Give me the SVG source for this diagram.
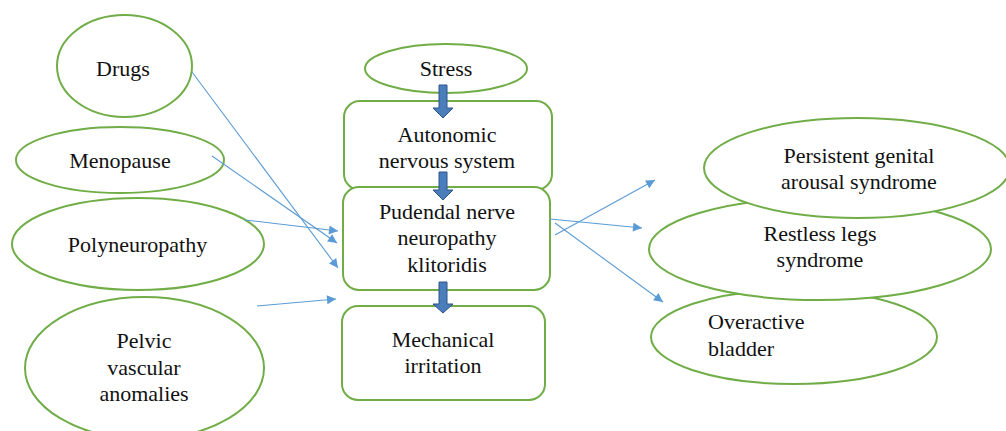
<svg xmlns="http://www.w3.org/2000/svg" width="1006" height="431" viewBox="0 0 1006 431">
<defs>
<style>
.n{fill:#fff;stroke:#70ad47;stroke-width:2}
.t{font-family:'Liberation Serif','Times New Roman',serif;font-size:22px;fill:#111;text-anchor:middle}
.c{stroke:#5b9bd5;stroke-width:1.1;fill:none;marker-end:url(#ah)}
.b{fill:#4a7ebb;stroke:#2f528f;stroke-width:1}
</style>
<marker id="ah" viewBox="0 0 10 10" refX="10" refY="5" markerWidth="10" markerHeight="9" markerUnits="userSpaceOnUse" orient="auto">
<path d="M0,0 L10,5 L0,10 z" fill="#5b9bd5"/>
</marker>
</defs>
<rect width="1006" height="431" fill="#fff"/>
<g id="drugs"><ellipse class="n" cx="124.5" cy="66" rx="67.5" ry="51"/><text class="t" x="123" y="76">Drugs</text></g>
<g id="menopause"><ellipse class="n" cx="120" cy="160" rx="104" ry="33"/><text class="t" x="120" y="168">Menopause</text></g>
<g id="polyneuropathy"><ellipse class="n" cx="138" cy="244" rx="126" ry="46"/><text class="t" x="137.5" y="252">Polyneuropathy</text></g>
<g id="pelvic"><ellipse class="n" cx="144.5" cy="368" rx="119.5" ry="71"/><text class="t" x="144" y="348">Pelvic</text><text class="t" x="144" y="375">vascular</text><text class="t" x="144" y="401">anomalies</text></g>
<g id="stress"><ellipse class="n" cx="446" cy="68.5" rx="81" ry="24.5"/><text class="t" x="446" y="76">Stress</text></g>
<g id="autonomic"><rect class="n" x="344" y="101" width="208" height="89" rx="16"/><text class="t" x="447" y="142">Autonomic</text><text class="t" x="447" y="168">nervous system</text></g>
<g id="pudendal"><rect class="n" x="343" y="187" width="207" height="103" rx="16"/><text class="t" x="447" y="219">Pudendal nerve</text><text class="t" x="447" y="245">neuropathy</text><text class="t" x="447" y="272">klitoridis</text></g>
<g id="mechanical"><rect class="n" x="342" y="306" width="203" height="94" rx="16"/><text class="t" x="443" y="347">Mechanical</text><text class="t" x="443" y="373">irritation</text></g>
<g id="overactive"><ellipse class="n" cx="794" cy="337" rx="143" ry="47"/><text class="t" x="708" y="329" style="text-anchor:start">Overactive</text><text class="t" x="708" y="356" style="text-anchor:start">bladder</text></g>
<g id="restless"><ellipse class="n" cx="820" cy="249" rx="171" ry="51"/><text class="t" x="820" y="241">Restless legs</text><text class="t" x="820" y="267">syndrome</text></g>
<g id="persistent"><ellipse class="n" cx="857" cy="168" rx="153" ry="50"/><text class="t" x="859" y="163">Persistent genital</text><text class="t" x="859" y="189">arousal syndrome</text></g>
<g id="connectors">
<path class="b" d="M439,85 H447 V108 H453 L443,118 L433,108 H439 Z"/>
<path class="b" d="M439,172 H447 V190 H453 L443,200 L433,190 H439 Z"/>
<path class="b" d="M439,282 H447 V304 H453 L443,313 L433,304 H439 Z"/>
<line class="c" x1="192" y1="72" x2="338" y2="268"/>
<line class="c" x1="212" y1="156" x2="337" y2="243"/>
<line class="c" x1="245" y1="220" x2="338" y2="231"/>
<line class="c" x1="257" y1="306" x2="336" y2="299"/>
<line class="c" x1="555" y1="235" x2="655" y2="180"/>
<line class="c" x1="550" y1="219" x2="642" y2="228"/>
<line class="c" x1="555" y1="223" x2="663" y2="302"/>
</g>
</svg>
